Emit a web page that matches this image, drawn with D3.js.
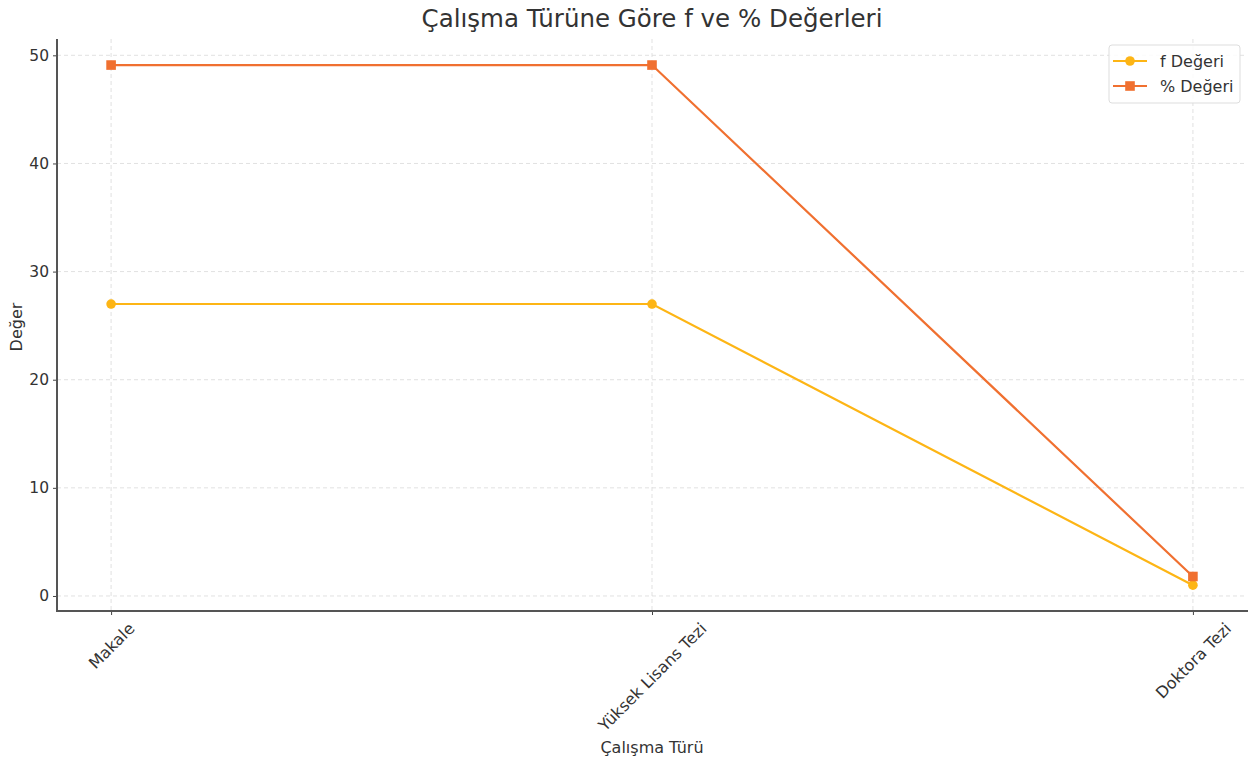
<!DOCTYPE html>
<html><head><meta charset="utf-8">
<script src="https://cdn.jsdelivr.net/npm/d3@7"></script>
<style>body{margin:0;background:#fff;} text{font-family:"DejaVu Sans",sans-serif;}</style>
</head><body>
<svg id="c" width="1248" height="762"></svg>
<script>
const categories = ["Makale", "Yüksek Lisans Tezi", "Doktora Tezi"];
const fValues = [27, 27, 1];
const pctValues = [49.1, 49.1, 1.8];
const yTicks = [0, 10, 20, 30, 40, 50];
const seriesNames = ["f Değeri", "% Değeri"];

const svg = d3.select("#c");
const L = 57, R = 1247, T = 39, B = 611;
const x = d3.scaleLinear().domain([-0.1, 2.1]).range([L, R]);
const y = d3.scaleLinear().domain([-1.39, 51.51]).range([B, T]);
const FS = 16;

// grid
const g = svg.append("g");
g.selectAll(".hg").data(yTicks).join("line")
  .attr("x1", L).attr("x2", R).attr("y1", d => y(d)).attr("y2", d => y(d))
  .attr("stroke", "#d9d9d9").attr("stroke-dasharray", "4,3").attr("stroke-width", 0.8);
g.selectAll(".vg").data(categories).join("line")
  .attr("x1", (d,i) => x(i)).attr("x2", (d,i) => x(i)).attr("y1", T).attr("y2", B)
  .attr("stroke", "#d9d9d9").attr("stroke-dasharray", "4,3").attr("stroke-width", 0.8);

// axes
const yAxis = d3.axisLeft(y).tickValues(yTicks).tickSize(4).tickPadding(4);
const ya = svg.append("g").attr("transform", `translate(${L},0)`).call(yAxis);
ya.select(".domain").remove();
ya.selectAll("text").attr("font-size", 15.5).attr("fill", "#333");
ya.selectAll("line").attr("stroke", "#444");

const xa = svg.append("g").attr("transform", `translate(0,${B})`)
  .call(d3.axisBottom(x).tickValues([0,1,2]).tickFormat(i => categories[i]).tickSize(4).tickPadding(4));
xa.select(".domain").remove();
xa.selectAll("line").attr("stroke", "#444");
xa.selectAll("text").attr("font-size", FS).attr("fill", "#333").attr("text-anchor", "middle").attr("dy", null).attr("y", null)
  .each(function(d) {
    const w = this.getComputedTextLength(), h = FS;
    const half = (w + h) * Math.SQRT1_2 / 2;
    d3.select(this).attr("transform", `translate(0,${9 + half}) rotate(-45)`).attr("dy", "0.35em");
  });

// spines
svg.append("line").attr("x1", L).attr("x2", L).attr("y1", T).attr("y2", B + 1).attr("stroke", "#555").attr("stroke-width", 2);
svg.append("line").attr("x1", L - 1).attr("x2", 1248).attr("y1", B).attr("y2", B).attr("stroke", "#555").attr("stroke-width", 2);

// lines
const colors = ["#FDB515", "#F07030"];
const series = [fValues, pctValues];
const line = d3.line().x((d,i) => x(i)).y(d => y(d));
series.forEach((s, k) => {
  svg.append("path").datum(s).attr("d", line).attr("fill", "none").attr("stroke", colors[k]).attr("stroke-width", 2.2);
});
svg.selectAll(".pt0").data(fValues).join("circle")
  .attr("cx", (d,i) => x(i)).attr("cy", d => y(d)).attr("r", 4.8).attr("fill", colors[0]);
svg.selectAll(".pt1").data(pctValues).join("rect")
  .attr("x", (d,i) => x(i) - 4.8).attr("y", d => y(d) - 4.8).attr("width", 9.6).attr("height", 9.6).attr("fill", colors[1]);

// labels
svg.append("text").attr("x", 652).attr("y", 27).attr("text-anchor", "middle").attr("font-size", 24.5).attr("fill", "#333").text("Çalışma Türüne Göre f ve % Değerleri");
svg.append("text").attr("x", 652).attr("y", 753).attr("text-anchor", "middle").attr("font-size", FS).attr("fill", "#333").text("Çalışma Türü");
svg.append("text").attr("transform", "translate(22,327) rotate(-90)").attr("text-anchor", "middle").attr("font-size", FS).attr("fill", "#333").text("Değer");

// legend
const lg = svg.append("g").attr("transform", "translate(1109,45)");
lg.append("rect").attr("width", 131).attr("height", 58).attr("rx", 3).attr("fill", "#fff").attr("fill-opacity", 0.85).attr("stroke", "#ddd");
seriesNames.forEach((n, k) => {
  const yy = 16 + k * 25;
  lg.append("line").attr("x1", 4).attr("x2", 38).attr("y1", yy).attr("y2", yy).attr("stroke", colors[k]).attr("stroke-width", 2.2);
  if (k === 0) lg.append("circle").attr("cx", 21).attr("cy", yy).attr("r", 4.8).attr("fill", colors[k]);
  else lg.append("rect").attr("x", 16.2).attr("y", yy - 4.8).attr("width", 9.6).attr("height", 9.6).attr("fill", colors[k]);
  lg.append("text").attr("x", 51).attr("y", yy).attr("dy", "0.35em").attr("font-size", FS).attr("fill", "#333").text(n);
});
</script>
</body></html>
